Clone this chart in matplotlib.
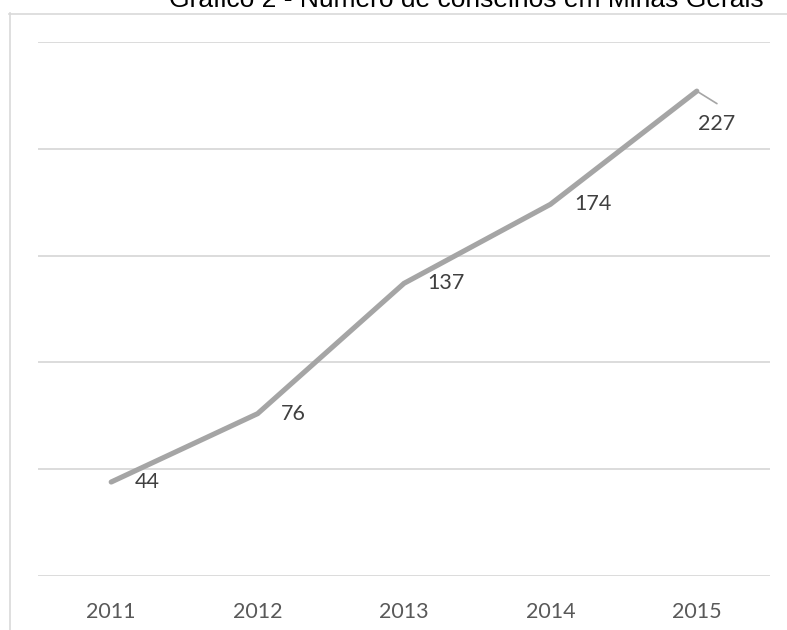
import matplotlib.pyplot as plt
from matplotlib.lines import Line2D

# Número de conselhos por ano
anos = ['2011', '2012', '2013', '2014', '2015']
conselhos = [44, 76, 137, 174, 227]

W, H = 787, 630
fig = plt.figure(figsize=(W / 100, H / 100), dpi=100)

# chart frame (only the top and left edges are visible)
fig.add_artist(Line2D([9.5 / W, 9.5 / W], [0, 1 - 13 / H], color='#d9d9d9', lw=1.2,
                      transform=fig.transFigure))
fig.add_artist(Line2D([9 / W, 1], [1 - 13.5 / H, 1 - 13.5 / H], color='#d9d9d9', lw=1.2,
                      transform=fig.transFigure))

# title, sitting at the very top edge
fig.text(466 / W, 1 - 7 / H, 'Gráfico 2 - Número de conselhos em Minas Gerais',
         ha='center', va='baseline', fontsize=19, family='Liberation Sans', color='black')

left, right = 38, 770
top, bottom = 42, 576
ax = fig.add_axes([left / W, 1 - bottom / H, (right - left) / W, (bottom - top) / H])

x = range(len(anos))
ax.plot(x, conselhos, color='#a5a5a5', lw=3.7, solid_capstyle='round',
        solid_joinstyle='miter', zorder=3)

ax.set_xlim(-0.5, len(anos) - 0.5)
ax.set_ylim(0, 250)
ax.set_yticks([0, 50, 100, 150, 200, 250])
ax.yaxis.grid(True, color='#d9d9d9', lw=1.3)
ax.set_axisbelow(True)
ax.tick_params(axis='y', left=False, labelleft=False)
ax.tick_params(axis='x', bottom=False, pad=15, labelsize=15.5, labelcolor='#595959')
ax.set_xticks(list(x))
ax.set_xticklabels(anos, family='Lato')
for s in ax.spines.values():
    s.set_visible(False)

# data labels to the right of each point
for i, v in enumerate(conselhos[:-1]):
    ax.annotate(str(v), (i, v), xytext=(17, 0), textcoords='offset points',
                ha='left', va='center', fontsize=15.5, family='Lato', color='#404040')

# last label sits below-right, joined to its point by a leader line
i, v = len(conselhos) - 1, conselhos[-1]
ax.annotate('', (i, v), xytext=(14.5, -9), textcoords='offset points',
            arrowprops=dict(arrowstyle='-', color='#a5a5a5', lw=1.2,
                            shrinkA=0, shrinkB=0))
ax.annotate(str(v), (i, v), xytext=(14.5, -23.5), textcoords='offset points',
            ha='center', va='center', fontsize=15.5, family='Lato', color='#404040')

fig.savefig('out.png', dpi=100)
